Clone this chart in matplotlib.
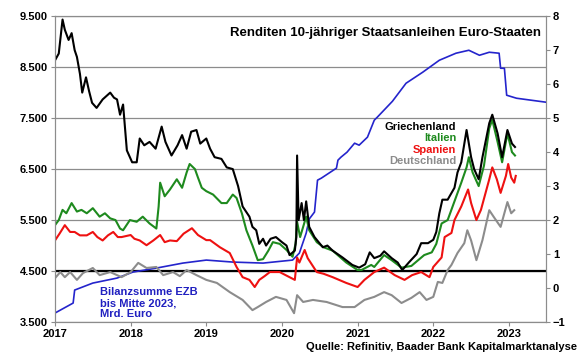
import matplotlib
matplotlib.use("Agg")
import matplotlib.pyplot as plt
from matplotlib.ticker import FuncFormatter

plt.rcParams['font.family'] = ['Liberation Sans', 'DejaVu Sans']
plt.rcParams['font.weight'] = 'bold'

# Renditen in %, Zeit als Dezimaljahr
gr_t = [2017.0, 2017.05, 2017.1, 2017.13, 2017.18, 2017.22, 2017.26, 2017.29, 2017.33, 2017.36,
        2017.41, 2017.45, 2017.49, 2017.55, 2017.63, 2017.73, 2017.78, 2017.82, 2017.86, 2017.9,
        2017.95, 2018.02, 2018.08, 2018.12, 2018.18, 2018.25, 2018.33, 2018.41, 2018.46, 2018.54,
        2018.62, 2018.68, 2018.74, 2018.8, 2018.87, 2018.92, 2019.0, 2019.05, 2019.11, 2019.2,
        2019.27, 2019.35, 2019.42, 2019.48, 2019.57, 2019.61, 2019.66, 2019.7, 2019.75, 2019.79,
        2019.85, 2019.92, 2020.0, 2020.06, 2020.1, 2020.17, 2020.19, 2020.2, 2020.22, 2020.26,
        2020.29, 2020.32, 2020.36, 2020.43, 2020.54, 2020.6, 2020.67, 2020.8, 2020.93, 2021.02,
        2021.1, 2021.16, 2021.22, 2021.3, 2021.35, 2021.45, 2021.53, 2021.59, 2021.68, 2021.78,
        2021.84, 2021.93, 2022.0, 2022.04, 2022.08, 2022.12, 2022.19, 2022.28, 2022.32, 2022.37,
        2022.44, 2022.5, 2022.54, 2022.6, 2022.65, 2022.74, 2022.78, 2022.85, 2022.91, 2022.98,
        2023.04, 2023.08]
gr_y = [6.7, 6.9, 7.9, 7.6, 7.3, 7.5, 7.0, 6.8, 6.3, 5.75,
        6.2, 5.8, 5.45, 5.3, 5.55, 5.75, 5.6, 5.55, 5.1, 5.4,
        4.05, 3.7, 3.7, 4.4, 4.2, 4.3, 4.1, 4.75, 4.3, 3.9,
        4.2, 4.5, 4.1, 4.6, 4.65, 4.25, 4.4, 4.1, 3.85, 3.8,
        3.55, 3.5, 3.0, 2.4, 2.1, 1.8, 1.7, 1.3, 1.45, 1.25,
        1.45, 1.5, 1.35, 1.25, 0.97, 1.1, 1.5, 3.9, 2.0, 2.5,
        2.0, 2.55, 1.8, 1.5, 1.2, 1.25, 1.1, 0.9, 0.68, 0.6,
        0.7, 1.05, 0.88, 0.95, 1.08, 0.88, 0.75, 0.53, 0.76, 1.0,
        1.32, 1.32, 1.42, 1.65, 2.2, 2.6, 2.6, 2.95, 3.4, 3.7,
        4.65, 3.85, 3.5, 3.2, 3.85, 4.85, 5.1, 4.55, 3.85, 4.65,
        4.25, 4.15]

it_t = [2017.0, 2017.05, 2017.1, 2017.15, 2017.22, 2017.29, 2017.35, 2017.42, 2017.5, 2017.59,
        2017.66, 2017.73, 2017.8, 2017.86, 2017.9, 2017.99, 2018.08, 2018.16, 2018.25, 2018.34,
        2018.37, 2018.39, 2018.45, 2018.52, 2018.61, 2018.68, 2018.74, 2018.78, 2018.85, 2018.89,
        2018.94, 2019.0, 2019.09, 2019.2, 2019.27, 2019.35, 2019.4, 2019.47, 2019.53, 2019.61,
        2019.68, 2019.75, 2019.82, 2019.88, 2019.97, 2020.06, 2020.14, 2020.18, 2020.2, 2020.24,
        2020.32, 2020.36, 2020.46, 2020.55, 2020.67, 2020.85, 2021.0, 2021.05, 2021.18, 2021.22,
        2021.35, 2021.45, 2021.58, 2021.71, 2021.8, 2021.88, 2021.98, 2022.04, 2022.11, 2022.19,
        2022.28, 2022.37, 2022.44, 2022.47, 2022.52, 2022.6, 2022.67, 2022.74, 2022.78, 2022.85,
        2022.91, 2022.98, 2023.04, 2023.08]
it_y = [1.85, 2.0, 2.3, 2.2, 2.5, 2.25, 2.3, 2.2, 2.35, 2.1,
        2.2, 2.05, 2.0, 1.75, 1.7, 2.0, 1.95, 2.1, 1.9, 1.75,
        2.4, 3.1, 2.7, 2.9, 3.2, 2.95, 3.4, 3.65, 3.5, 3.25,
        2.95, 2.85, 2.75, 2.5, 2.5, 2.75, 2.65, 2.2, 1.7, 1.25,
        0.82, 0.85, 1.1, 1.35, 1.3, 1.12, 0.92, 1.3, 1.95, 1.5,
        2.1, 1.7, 1.35, 1.2, 1.1, 0.75, 0.53, 0.53, 0.68, 0.62,
        0.97, 0.82, 0.6, 0.65, 0.82, 0.97, 1.05, 1.3, 1.9, 2.0,
        2.55, 3.1, 3.55, 3.85, 3.4, 3.0, 3.6, 4.7, 4.95, 4.3,
        3.7, 4.55, 4.0, 3.9]

es_t = [2017.0, 2017.06, 2017.13, 2017.2, 2017.26, 2017.33, 2017.42, 2017.5, 2017.56, 2017.63,
        2017.7, 2017.77, 2017.83, 2017.88, 2018.0, 2018.05, 2018.12, 2018.21, 2018.3, 2018.39,
        2018.45, 2018.52, 2018.61, 2018.7, 2018.81, 2018.89, 2019.0, 2019.05, 2019.18, 2019.31,
        2019.4, 2019.48, 2019.57, 2019.64, 2019.7, 2019.77, 2019.84, 2019.97, 2020.1, 2020.17,
        2020.2, 2020.23, 2020.3, 2020.34, 2020.46, 2020.55, 2020.67, 2020.85, 2021.0, 2021.09,
        2021.22, 2021.35, 2021.49, 2021.62, 2021.72, 2021.84, 2021.95, 2022.0, 2022.11, 2022.15,
        2022.24, 2022.28, 2022.37, 2022.46, 2022.5, 2022.57, 2022.63, 2022.74, 2022.78, 2022.84,
        2022.89, 2022.96, 2022.99, 2023.03, 2023.07, 2023.09]
es_y = [1.4, 1.6, 1.85, 1.65, 1.65, 1.55, 1.55, 1.65, 1.5, 1.4,
        1.55, 1.65, 1.5, 1.5, 1.56, 1.45, 1.4, 1.26, 1.4, 1.56,
        1.35, 1.4, 1.38, 1.6, 1.76, 1.56, 1.41, 1.41, 1.2, 1.03,
        0.62, 0.32, 0.24, 0.03, 0.24, 0.35, 0.47, 0.47, 0.32, 0.24,
        0.9, 0.75, 1.12, 0.88, 0.47, 0.42, 0.32, 0.15, 0.03, 0.24,
        0.47, 0.6, 0.38, 0.24, 0.38, 0.47, 0.32, 0.62, 0.9, 1.5,
        1.62, 2.0, 2.4, 2.9, 2.5, 2.0, 2.3, 3.2, 3.55, 3.2,
        2.8, 3.3, 3.65, 3.25, 3.1, 3.3]

de_t = [2017.0, 2017.07, 2017.13, 2017.2, 2017.29, 2017.37, 2017.5, 2017.59, 2017.73, 2017.88,
        2018.0, 2018.1, 2018.21, 2018.34, 2018.43, 2018.56, 2018.65, 2018.74, 2018.87, 2019.0,
        2019.14, 2019.31, 2019.48, 2019.61, 2019.68, 2019.79, 2019.92, 2020.06, 2020.16, 2020.2,
        2020.28, 2020.41, 2020.59, 2020.8, 2020.96, 2021.09, 2021.22, 2021.35, 2021.45, 2021.58,
        2021.71, 2021.82, 2021.91, 2022.0, 2022.06, 2022.12, 2022.19, 2022.24, 2022.32, 2022.41,
        2022.45, 2022.5, 2022.57, 2022.65, 2022.74, 2022.8, 2022.89, 2022.98, 2023.03, 2023.07]
de_y = [0.29, 0.47, 0.32, 0.47, 0.24, 0.44, 0.59, 0.38, 0.47, 0.32,
        0.47, 0.74, 0.59, 0.62, 0.38, 0.47, 0.35, 0.53, 0.38, 0.24,
        0.15, -0.12, -0.35, -0.65, -0.56, -0.41, -0.26, -0.35, -0.74, -0.21,
        -0.41, -0.35, -0.41, -0.56, -0.56, -0.35, -0.26, -0.12, -0.21, -0.44,
        -0.29, -0.12, -0.35, -0.26, 0.18, 0.15, 0.53, 0.68, 1.03, 1.32,
        1.7, 1.4, 0.82, 1.41, 2.29, 2.09, 1.8, 2.53, 2.2, 2.29]

# Bilanzsumme EZB, Mrd. Euro
ezb_t = [2017.0, 2017.24, 2017.26, 2017.5, 2017.82, 2018.03, 2018.34, 2018.69, 2019.0, 2019.35,
         2019.75, 2020.14, 2020.23, 2020.32, 2020.36, 2020.43, 2020.47, 2020.52, 2020.72, 2020.74,
         2020.78, 2020.86, 2020.96, 2021.02, 2021.13, 2021.22, 2021.26, 2021.46, 2021.64, 2021.86,
         2022.08, 2022.3, 2022.47, 2022.61, 2022.74, 2022.87, 2022.89, 2022.94, 2022.97, 2023.1,
         2023.49]
ezb_y = [3676, 3872, 4127, 4264, 4362, 4480, 4558, 4656, 4715, 4676,
         4656, 4715, 4852, 5244, 5520, 5657, 6283, 6322, 6518, 6675,
         6734, 6832, 7008, 6969, 7126, 7459, 7518, 7830, 8184, 8400,
         8635, 8773, 8831, 8733, 8792, 8773, 8478, 8478, 7949, 7890,
         7812]

years = [2017, 2018, 2019, 2020, 2021, 2022, 2023]

fig = plt.figure(figsize=(5.8, 3.59), dpi=100)
ax = fig.add_axes([0.0948, 0.103, 0.8466, 0.852])
ax2 = ax.twinx()

ax.plot(ezb_t, ezb_y, color='#2424cc', lw=1.2, zorder=3)
ax.axhline(4500, color='black', lw=1.6, zorder=2)
ax.set_ylim(3500, 9500)
ax.set_yticks([3500, 4500, 5500, 6500, 7500, 8500, 9500])
ax.yaxis.set_major_formatter(FuncFormatter(lambda v, p: f"{v:,.0f}".replace(',', '.')))
ax.grid(axis='y', color='#8c8c8c', lw=0.9)
ax.set_xlim(2017, 2023.49)
ax.set_xticks(years)
ax.set_xticklabels([str(y) for y in years])

ax2.plot(de_t, de_y, color='#8c8c8c', lw=1.5)
ax2.plot(es_t, es_y, color='#ee1111', lw=1.5)
ax2.plot(it_t, it_y, color='#1e8a1e', lw=1.5)
ax2.plot(gr_t, gr_y, color='black', lw=1.5)
ax2.set_ylim(-1, 8)
ax2.set_yticks(range(-1, 9))

for a in (ax, ax2):
    for s in a.spines.values():
        s.set_color('#8c8c8c')
        s.set_linewidth(0.8)
    a.tick_params(labelsize=8, length=3, width=0.8, color='#8c8c8c', pad=2)

ax.text(0.989, 0.963, "Renditen 10-jähriger Staatsanleihen Euro-Staaten", transform=ax.transAxes,
        ha='right', va='top', fontsize=9.5, fontweight='bold')

lbl_y = [0.639, 0.603, 0.561, 0.525]
for txt, col, yy in zip(["Griechenland", "Italien", "Spanien", "Deutschland"],
                        ['black', '#1e8a1e', '#ee1111', '#8c8c8c'], lbl_y):
    ax.text(0.817, yy, txt, transform=ax.transAxes, ha='right', va='center',
            fontsize=8, fontweight='bold', color=col)

ax.text(0.092, 0.062, "Bilanzsumme EZB\nbis Mitte 2023,\nMrd. Euro", transform=ax.transAxes,
        ha='left', va='center', fontsize=8, fontweight='bold', color='#2020c0', linespacing=1.1)

fig.text(0.995, 0.033, "Quelle: Refinitiv, Baader Bank Kapitalmarktanalyse", ha='right',
         va='center', fontsize=8, fontweight='bold')

fig.savefig("out.png", dpi=100)
